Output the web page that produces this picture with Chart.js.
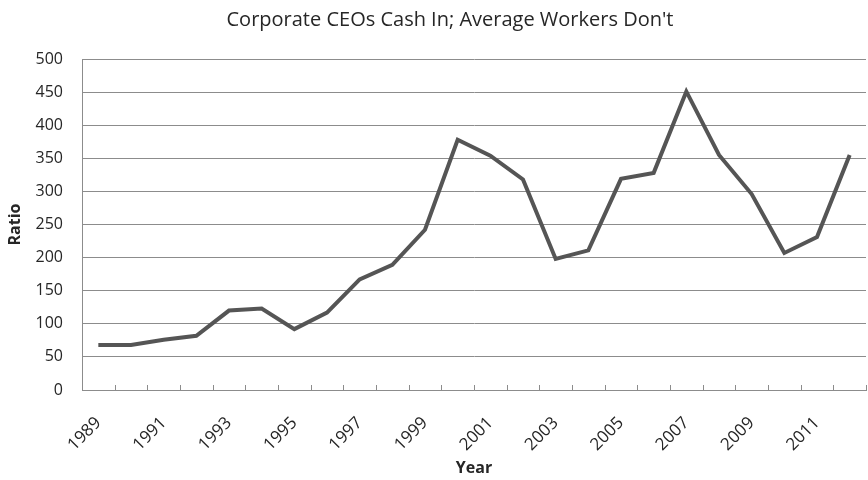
<!DOCTYPE html>
<html>
<head>
<meta charset="utf-8">
<script src="https://cdn.jsdelivr.net/npm/chart.js@4/dist/chart.umd.min.js"></script>
<style>
  html, body { margin: 0; padding: 0; background: #ffffff; }
  #wrap { width: 868px; height: 480px; position: relative; }
</style>
</head>
<body>
<div id="wrap"><canvas id="c"></canvas></div>
<script>
// CEO-to-worker compensation ratio by year
const years = ['1989','1990','1991','1992','1993','1994','1995','1996','1997','1998','1999','2000',
               '2001','2002','2003','2004','2005','2006','2007','2008','2009','2010','2011','2012'];
const ratio = [68, 68, 76, 82, 120, 123, 92, 117, 167, 189, 242, 378,
               354, 318, 198, 211, 319, 328, 451, 355, 296, 207, 231, 355];
const yTicks = [0, 50, 100, 150, 200, 250, 300, 350, 400, 450, 500];
const heading = "Corporate CEOs Cash In; Average Workers Don't";

const FONT = "'Open Sans', 'DejaVu Sans', sans-serif";
const GRID = '#8c8c8c';
const TEXT = '#262626';

// chart heading, centred a little right of the canvas middle
const headingPlugin = {
  id: 'heading',
  afterDraw(chart) {
    const ctx = chart.ctx;
    ctx.save();
    ctx.font = '20px ' + FONT;
    ctx.fillStyle = TEXT;
    ctx.textAlign = 'center';
    ctx.textBaseline = 'middle';
    ctx.fillText(heading, 450, 20);
    ctx.restore();
  }
};

// small upward tick marks on the category boundaries of the x axis
const boundaryTicks = {
  id: 'boundaryTicks',
  afterDatasetsDraw(chart) {
    const x = chart.scales.x;
    const ctx = chart.ctx;
    const n = chart.data.labels.length;
    const bottom = chart.chartArea.bottom;
    ctx.save();
    ctx.strokeStyle = GRID;
    ctx.lineWidth = 1;
    for (let i = 0; i <= n; i++) {
      let px;
      if (i === 0) px = x.left;
      else if (i === n) px = x.right;
      else px = (x.getPixelForValue(i - 1) + x.getPixelForValue(i)) / 2;
      px = Math.round(px) + 0.5;
      ctx.beginPath();
      ctx.moveTo(px, bottom);
      ctx.lineTo(px, bottom - 5);
      ctx.stroke();
    }
    ctx.restore();
  }
};

new Chart(document.getElementById('c'), {
  type: 'line',
  data: {
    labels: years,
    datasets: [{
      label: 'Ratio',
      data: ratio,
      borderColor: '#555555',
      borderWidth: 4,
      pointRadius: 0,
      tension: 0,
      fill: false
    }]
  },
  plugins: [headingPlugin, boundaryTicks],
  options: {
    responsive: true,
    maintainAspectRatio: false,
    animation: false,
    layout: { padding: { left: 4, right: 2, top: 59, bottom: 2 } },
    plugins: {
      legend: { display: false },
      tooltip: { enabled: false },
      title: { display: false }
    },
    scales: {
      x: {
        type: 'category',
        offset: true,
        afterFit: (axis) => {
          axis.height = 88;
          axis.paddingRight = 0;
          axis.paddingLeft = 0;
        },
        grid: { display: true, drawOnChartArea: false, drawTicks: false, color: GRID, offset: true },
        border: { display: true, color: GRID, width: 1 },
        ticks: {
          autoSkip: false,
          maxRotation: 45,
          minRotation: 45,
          padding: 23,
          color: TEXT,
          font: { family: FONT, size: 17 },
          callback: function (v, i) { return i % 2 === 0 ? this.getLabelForValue(v) : ''; }
        },
        title: {
          display: true,
          text: 'Year',
          color: TEXT,
          font: { family: FONT, size: 16, weight: 'bold' },
          padding: { top: 2, bottom: 0 }
        }
      },
      y: {
        min: 0,
        max: 500,
        afterFit: (axis) => { axis.width = 78; },
        afterBuildTicks: (axis) => { axis.ticks = yTicks.map(v => ({ value: v })); },
        grid: { color: GRID, lineWidth: 1, drawTicks: false },
        border: { display: true, color: GRID, width: 1 },
        ticks: {
          padding: 19,
          color: TEXT,
          font: { family: FONT, size: 16 }
        },
        title: {
          display: true,
          text: 'Ratio',
          color: TEXT,
          font: { family: FONT, size: 16, weight: 'bold' },
          padding: { top: 2, bottom: 0 }
        }
      }
    }
  }
});
</script>
</body>
</html>
